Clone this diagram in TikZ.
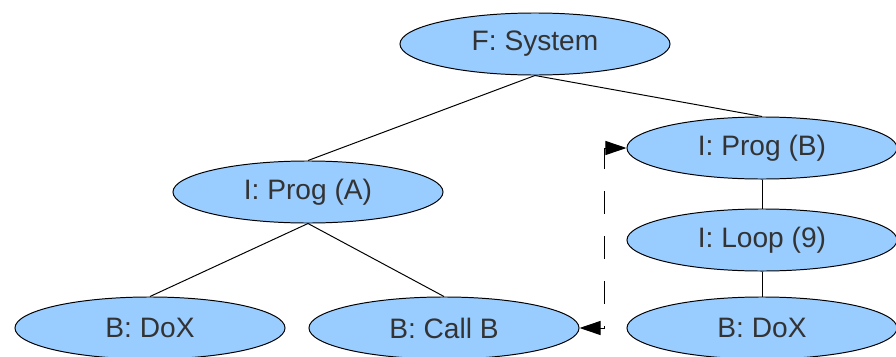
\documentclass[tikz,border=0pt]{standalone}
\usepackage{fontspec}
\setmainfont{Liberation Sans}
\usepackage{xcolor}
\usepackage{tikz}
\usetikzlibrary{shapes.geometric, arrows.meta, positioning, calc}
\definecolor{myblue}{RGB}{153,204,255}
\definecolor{mytext}{RGB}{51,51,51}
\tikzset{
  callnode/.style={ellipse, draw=black, fill=myblue,
    minimum width=6.75cm, minimum height=1.55cm, inner sep=0pt,
    text=mytext, font=\fontsize{20pt}{24pt}\selectfont, line width=0.7pt},
  tree/.style={line width=0.7pt, color=black},
  callarrow/.style={{Triangle[length=15pt, width=10pt]}-{Triangle[length=15pt, width=10pt]},
    line width=0.7pt, color=black, dash pattern=on 16pt off 16pt}
}

\begin{document}
\begin{tikzpicture}[x=0.025cm, y=-0.025cm]
  \useasboundingbox (0,0) rectangle (896,356);
  \clip (0,0) rectangle (896,356);

  % Call tree nodes
  \node[callnode] (sys) at (535,44) {F: System};
  \node[callnode] (proga) at (308,192) {I: Prog (A)};
  \node[callnode] (progb) at (762,148) {I: Prog (B)};
  \node[callnode] (loop) at (762,240) {I: Loop (9)};
  \node[callnode] (doxa) at (150,328) {B: DoX};
  \node[callnode] (callb) at (444,328) {B: Call B};
  \node[callnode] (doxb) at (762,328) {B: DoX};

  % Tree edges
  \draw[tree] (sys.south) -- (proga.north);
  \draw[tree] (sys.south) -- (progb.north);
  \draw[tree] (proga.south) -- (doxa.north);
  \draw[tree] (proga.south) -- (callb.north);
  \draw[tree] (progb.south) -- (loop.north);
  \draw[tree] (loop.south) -- (doxb.north);

  % Call link from B: Call B to I: Prog (B)
  \coordinate (jtop) at (604,148);
  \coordinate (jbot) at (604,328);
  \draw[callarrow] (progb.west) -- (jtop) -- (jbot) -- (callb.east);
\end{tikzpicture}
\end{document}
